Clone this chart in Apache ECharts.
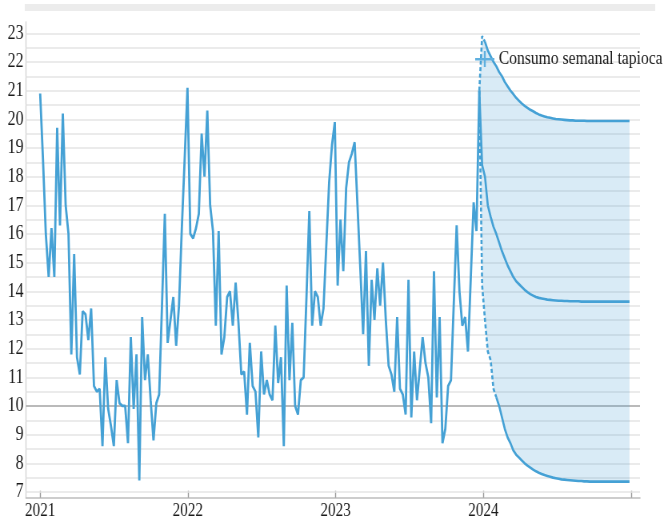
<!DOCTYPE html>
<html>
<head>
<meta charset="utf-8">
<script src="https://cdn.jsdelivr.net/npm/echarts@6/dist/echarts.min.js"></script>
<style>
html,body{margin:0;padding:0;background:#fff;overflow:hidden;width:666px;height:520px}
#c{width:832px;height:520px;transform:scaleX(0.8);transform-origin:0 0}
</style>
</head>
<body>
<div id="c"></div>
<script>
// ---- data (weekly, starting 2021-01-01) ----
const seriesName = 'Consumo semanal tapioca';
const startYear = 2021, startMonth = 0, startDay = 1;
const actual = [
  20.9, 18.6, 16.0, 14.5, 16.2, 14.5, 19.7, 16.3, 20.2, 17.0,
  16.0, 11.8, 15.3, 11.7, 11.1, 13.3, 13.2, 12.3, 13.4, 10.7,
  10.5, 10.6, 8.6, 11.7, 9.9, 9.3, 8.6, 10.9, 10.1, 10.0,
  10.0, 8.7, 12.4, 9.9, 11.8, 7.4, 13.1, 10.9, 11.8, 10.2,
  8.8, 10.1, 10.4, 13.5, 16.7, 12.2, 13.0, 13.8, 12.1, 13.5,
  16.2, 18.6, 21.1, 16.0, 15.85, 16.2, 16.7, 19.5, 18.0, 20.3,
  17.0, 16.1, 12.8, 16.1, 11.8, 12.4, 13.8, 14.0, 12.8, 14.3,
  12.9, 11.1, 11.2, 9.7, 12.2, 10.7, 10.5, 8.9, 11.9, 10.4,
  10.9, 10.4, 10.2, 12.8, 10.8, 11.7, 8.6, 14.2, 10.9, 12.9,
  10.0, 9.7, 10.9, 11.0, 13.8, 16.8, 12.8, 14.0, 13.8, 12.8,
  13.4, 15.6, 17.8, 19.1, 19.9, 14.2, 16.5, 14.7, 17.6, 18.5,
  18.8, 19.2, 17.0, 14.8, 12.5, 15.4, 11.4, 14.4, 13.0, 14.8,
  13.5, 15.0, 13.0, 11.4, 11.1, 10.5, 13.1, 10.6, 10.4, 9.7,
  14.4, 9.6, 11.9, 10.2, 11.3, 12.4, 11.5, 11.0, 9.4, 14.7,
  10.3, 13.1, 8.7, 9.2, 10.7, 10.9, 13.6, 16.3, 14.0, 12.8,
  13.1, 11.9, 14.5, 17.1, 16.1, 21.0
];
// forecast, weekly, following the last observed week
const forecastCenter = [
  18.4, 18.0, 17.0, 16.6, 16.25, 16.0, 15.7, 15.4, 15.15, 14.9,
  14.7, 14.5, 14.35, 14.25, 14.15, 14.05, 13.97, 13.9, 13.85, 13.8,
  13.77, 13.75, 13.73, 13.71, 13.7, 13.69, 13.68, 13.67, 13.67, 13.66,
  13.66, 13.65, 13.65, 13.65, 13.65, 13.64, 13.64, 13.64, 13.64, 13.64,
  13.64, 13.64, 13.64, 13.64, 13.64, 13.64, 13.64, 13.64, 13.64, 13.64,
  13.64, 13.64, 13.64
];
const forecastUpper = [
  22.9, 22.7, 22.4, 22.2, 22.0, 21.85, 21.65, 21.5, 21.3, 21.15,
  21.0, 20.88, 20.75, 20.65, 20.55, 20.47, 20.4, 20.33, 20.28, 20.22,
  20.17, 20.13, 20.1, 20.07, 20.05, 20.03, 20.01, 20.0, 19.99, 19.98,
  19.97, 19.96, 19.96, 19.95, 19.95, 19.95, 19.95, 19.94, 19.94, 19.94,
  19.94, 19.94, 19.94, 19.94, 19.94, 19.94, 19.94, 19.94, 19.94, 19.94,
  19.94, 19.94, 19.94
];
const forecastLower = [
  14.2, 13.0, 11.9, 11.6, 10.6, 10.3, 10.0, 9.6, 9.2, 8.9,
  8.7, 8.45, 8.3, 8.2, 8.1, 8.0, 7.92, 7.85, 7.78, 7.72,
  7.67, 7.63, 7.59, 7.56, 7.53, 7.5, 7.48, 7.46, 7.44, 7.43,
  7.42, 7.41, 7.4, 7.39, 7.38, 7.38, 7.37, 7.37, 7.36, 7.36,
  7.36, 7.36, 7.36, 7.36, 7.36, 7.36, 7.36, 7.36, 7.36, 7.36,
  7.36, 7.36, 7.36
];
const steepWeeks = 6; // first forecast weeks drawn dashed
const yTickLabels = [7,8,9,10,11,12,13,14,15,16,17,18,19,20,21,22,23];
const gridValues = [7,7.5,8,8.5,9,9.5,10,10.5,11,11.5,12,12.5,13,13.5,14,14.5,15,15.5,16,16.5,17,17.5,18,18.5,19,19.5,20,20.5,21,21.5,22,22.5,23];
const referenceValue = 10;
const yearTicks = [2021, 2022, 2023, 2024, 2025];
const yearLabels = [2021, 2022, 2023, 2024];
const xMinDate = [2020, 10, 27];
const xMaxDate = [2025, 0, 22];

// ---- build ----
const DAY = 864e5;
const start = new Date(startYear, startMonth, startDay).getTime();
const weekDate = i => start + i * 7 * DAY;
const actualData = actual.map((v, i) => [weekDate(i), v]);
const last = actual.length - 1;
const anchor = [weekDate(last), actual[last]];
const fc = arr => [anchor].concat(arr.map((v, k) => [weekDate(last + 1 + k), v]));
const centerData = fc(forecastCenter);
const upperData = fc(forecastUpper);
const lowerData = fc(forecastLower);
const bandPoly = upperData.concat(lowerData.slice().reverse());

const FONT = 'Liberation Serif';
const BLUE = '#45a1d5';

const gridLines = gridValues.map(v => ({
  yAxis: v,
  lineStyle: v === referenceValue
    ? { color: '#a3a3a3', width: 1.6, type: 'solid' }
    : { color: '#e4e4e4', width: 1.6, type: 'solid' }
}));

const lineSeries = (name, data, z, dashed, width) => ({
  type: 'line', name, data, z,
  showSymbol: false, symbol: 'none',
  lineStyle: { color: BLUE, width, type: dashed ? [4, 2.5] : 'solid' }
});

const chart = echarts.init(document.getElementById('c'), null, { renderer: 'canvas' });
chart.setOption({
  animation: false,
  backgroundColor: '#ffffff',
  graphic: [{
    type: 'rect', left: 31, top: 4, silent: true, z: 0,
    shape: { width: 788, height: 7 },
    style: { fill: '#ececec' }
  }],
  grid: { left: 32.5, right: 32, top: 21.8, bottom: 22.3, containLabel: false, outerBoundsMode: 'none' },
  legend: {
    data: [seriesName],
    left: 594, top: 49, padding: 0,
    itemWidth: 25, itemHeight: 16,
    icon: 'path://M0,7 L24,7 L24,9.5 L0,9.5 Z M10.8,0 L13.2,0 L13.2,16 L10.8,16 Z',
    itemStyle: { color: '#5fb0df' },
    textStyle: { fontFamily: FONT, fontSize: 19.5, color: '#1a1a1a' }
  },
  xAxis: {
    type: 'value',
    min: new Date(...xMinDate).getTime(),
    max: new Date(...xMaxDate).getTime(),
    axisLine: { show: true, lineStyle: { color: '#bdbdbd', width: 1.6 } },
    axisTick: {
      show: true, inside: true, length: 7,
      customValues: yearTicks.map(y => new Date(y, 0, 1).getTime()),
      lineStyle: { color: '#9a9a9a', width: 1.4 }
    },
    axisLabel: {
      customValues: yearLabels.map(y => new Date(y, 0, 1).getTime()),
      formatter: v => String(new Date(v).getFullYear()),
      fontFamily: FONT, fontSize: 19, color: '#1a1a1a', margin: 4
    },
    splitLine: { show: false }
  },
  yAxis: {
    type: 'value', min: 6.8, max: 23.4,
    axisLine: { show: true, lineStyle: { color: '#cfcfcf', width: 1.2 } },
    axisTick: { show: false },
    axisLabel: {
      customValues: yTickLabels,
      fontFamily: FONT, fontSize: 20, color: '#1a1a1a', margin: 3
    },
    splitLine: { show: false }
  },
  series: [
    {
      type: 'line', name: 'grid', data: [], z: 1, silent: true,
      markLine: { silent: true, z: 1, symbol: ['none', 'none'], label: { show: false }, data: gridLines, animation: false }
    },
    {
      type: 'custom', name: 'band', z: 2, silent: true,
      data: bandPoly,
      renderItem: (params, api) => {
        if (params.dataIndex !== 0) return null;
        const pts = bandPoly.map(p => api.coord(p));
        return { type: 'polygon', shape: { points: pts }, style: { fill: 'rgba(80,165,215,0.22)' } };
      },
      encode: { x: 0, y: 1 }
    },
    lineSeries('lowerSteep', lowerData.slice(0, steepWeeks + 1), 3, true, 2.6),
    lineSeries('lower', lowerData.slice(steepWeeks), 3, false, 2.6),
    lineSeries('upperSteep', upperData.slice(0, 3), 3, true, 2.6),
    lineSeries('upper', upperData.slice(2), 3, false, 2.6),
    lineSeries('center', centerData, 4, false, 2.6),
    {
      type: 'line', name: seriesName, data: actualData, z: 5,
      showSymbol: false, symbol: 'none',
      itemStyle: { color: BLUE },
      lineStyle: { color: BLUE, width: 2.8 }
    }
  ]
});
</script>
</body>
</html>
